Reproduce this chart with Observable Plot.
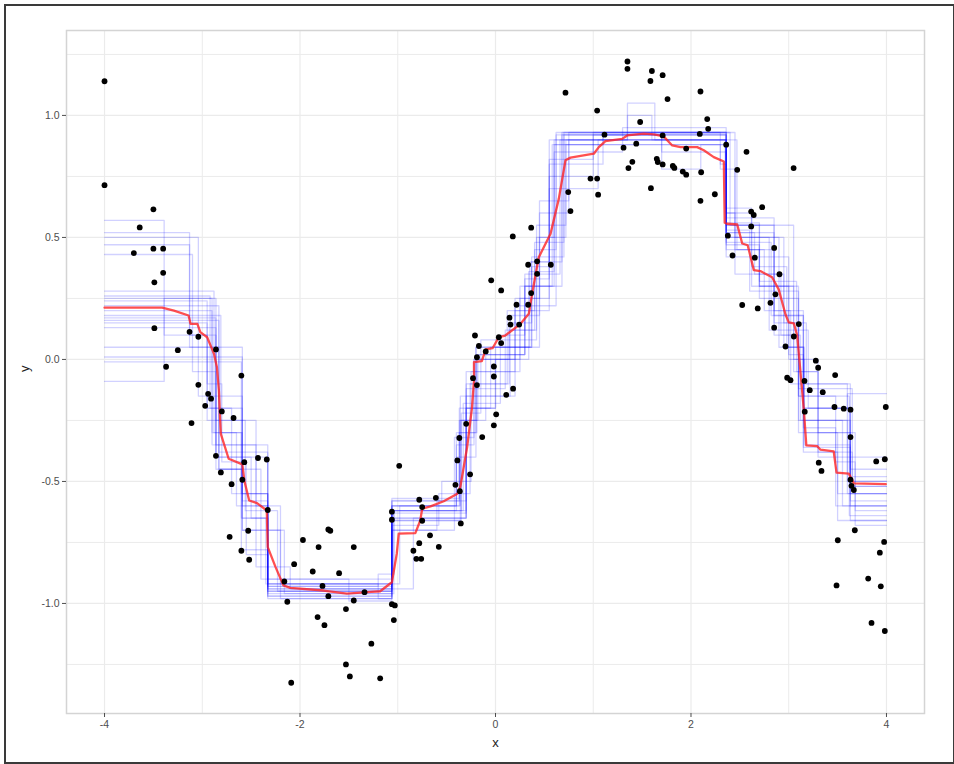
<!DOCTYPE html>
<html>
<head>
<meta charset="utf-8">
<script src="https://cdn.jsdelivr.net/npm/d3@7"></script>
<script src="https://cdn.jsdelivr.net/npm/@observablehq/plot@0.6"></script>
<style>
  html, body { margin: 0; padding: 0; background: #fff; }
  #wrap { position: relative; width: 954px; height: 764px; overflow: hidden; }
  #outer { position: absolute; left: 4px; top: 4px; width: 947px; height: 756px; border: 2px solid #3a3a3a; pointer-events: none; box-sizing: content-box; }
  svg { display: block; }
</style>
</head>
<body>
<div id="wrap"><div id="outer"></div></div>
<script>
// ---- tick values / labels ----
const xMajor = [-4, -2, 0, 2, 4];
const xMinor = [-3, -1, 1, 3];
const yMajor = [-1, -0.5, 0, 0.5, 1];
const yMinor = [-1.25, -0.75, -0.25, 0.25, 0.75, 1.25];
const xTitle = "x";
const yTitle = "y";

// ---- observed points [x, y] ----
const points = [
  [-4.00,1.14],[-4.00,0.714],[-3.50,0.615],[-3.64,0.541],[-3.70,0.436],[-3.50,0.454],[-3.40,0.454],
  [-3.40,0.355],[-3.49,0.316],[-3.49,0.128],[-3.13,0.113],[-3.04,0.093],[-3.25,0.038],[-2.86,0.041],
  [-3.37,-0.030],[-2.60,-0.066],[-3.04,-0.104],[-2.94,-0.141],[-2.91,-0.161],[-2.97,-0.190],[-2.80,-0.213],
  [-2.68,-0.240],[-3.11,-0.261],[-2.86,-0.395],[-2.57,-0.421],[-2.43,-0.404],[-2.34,-0.410],[-2.81,-0.463],
  [-2.70,-0.511],[-2.59,-0.493],[-2.33,-0.617],[-2.72,-0.727],[-2.53,-0.702],[-2.60,-0.784],[-2.52,-0.821],
  [-2.16,-0.910],[-2.13,-0.993],[-2.06,-0.839],[-1.97,-0.740],[-1.87,-0.869],[-1.81,-0.769],[-1.71,-0.697],
  [-1.69,-0.702],[-1.77,-0.928],[-1.71,-0.970],[-1.82,-1.056],[-1.75,-1.089],[-1.60,-0.876],[-1.45,-0.769],
  [-1.53,-1.023],[-1.45,-0.988],[-1.34,-0.954],[-1.27,-1.165],[-1.53,-1.25],[-1.49,-1.299],[-1.18,-1.307],
  [-2.09,-1.325],[-1.06,-0.624],[-1.06,-0.657],[-0.985,-0.436],[-1.06,-1.003],[-1.03,-1.008],[-1.04,-1.068],
  [-0.78,-0.575],[-0.75,-0.605],[-0.61,-0.567],[-0.75,-0.661],[-0.67,-0.721],[-0.78,-0.753],[-0.58,-0.768],
  [-0.84,-0.784],[-0.81,-0.817],[-0.76,-0.817],[-0.41,-0.514],[-0.365,-0.540],[-0.39,-0.414],[-0.37,-0.322],
  [-0.30,-0.264],[-0.26,-0.471],[-0.355,-0.672],[-0.19,-0.105],[-0.136,-0.318],[-0.017,-0.270],[0.007,-0.225],
  [0.11,-0.145],[0.18,-0.120],[-0.017,-0.070],[-0.017,-0.029],[-0.23,-0.077],[-0.19,0.009],[-0.17,0.055],
  [-0.21,0.098],[-0.10,0.033],[0.034,0.091],[0.058,0.067],[-0.044,0.324],[0.058,0.283],[0.143,0.171],
  [0.153,0.143],[0.242,0.143],[0.215,0.224],[0.177,0.504],[0.334,0.224],[0.365,0.272],[0.334,0.388],
  [0.426,0.351],[0.426,0.402],[0.365,0.540],[0.566,0.388],[0.716,1.093],[0.744,0.686],[0.767,0.608],
  [0.972,0.741],[1.04,0.741],[1.05,0.675],[1.04,1.020],[1.115,0.921],[1.35,1.221],[1.35,1.191],
  [1.60,1.182],[1.71,1.165],[1.585,1.141],[1.76,1.067],[1.48,0.973],[1.31,0.868],[1.44,0.884],
  [1.40,0.810],[1.36,0.784],[1.65,0.822],[1.66,0.809],[1.71,0.799],[1.59,0.702],[1.71,0.918],
  [2.097,1.098],[2.166,0.985],[2.176,0.945],[2.09,0.924],[2.568,0.851],[3.05,0.784],[1.951,0.864],
  [1.814,0.793],[1.83,0.785],[1.916,0.770],[1.951,0.757],[2.104,0.767],[2.097,0.650],[2.36,0.880],
  [2.473,0.777],[2.244,0.677],[2.728,0.624],[2.616,0.606],[2.642,0.592],[2.616,0.545],[2.377,0.507],
  [2.425,0.426],[2.851,0.457],[2.653,0.417],[2.905,0.349],[2.864,0.267],[2.813,0.232],[2.524,0.223],
  [2.683,0.209],[2.851,0.130],[3.103,0.145],[3.052,0.094],[2.967,0.053],[2.984,-0.075],[3.018,-0.085],
  [3.161,-0.088],[3.277,-0.005],[3.301,-0.034],[3.215,-0.126],[3.348,-0.134],[3.475,-0.064],[3.164,-0.214],
  [3.468,-0.195],[3.563,-0.202],[3.632,-0.206],[3.993,-0.195],[3.632,-0.318],[3.307,-0.423],[3.335,-0.457],
  [3.895,-0.418],[3.983,-0.409],[3.632,-0.493],[3.642,-0.518],[3.666,-0.535],[3.676,-0.700],[3.502,-0.741],
  [3.976,-0.748],[3.932,-0.792],[3.489,-0.926],[3.813,-0.898],[3.942,-0.930],[3.847,-1.080],[3.983,-1.113]
];

// ---- bagged tree fits: each [xStart, level] ----
const bagTrees = [
  [[-4,0.57],[-3.39,0.10],[-2.86,-0.40],[-2.33,-0.95],[-1.06,-0.62],[-0.30,-0.10],[0.12,0.20],[0.40,0.45],[0.62,0.92],[2.36,0.55],[2.85,0.20],[3.15,-0.20],[3.63,-0.52]],
  [[-4,0.52],[-3.13,0.05],[-2.83,-0.45],[-2.59,-0.70],[-2.16,-0.96],[-1.06,-0.58],[-0.37,-0.30],[-0.19,0.02],[0.30,0.33],[0.55,0.90],[1.35,1.05],[1.63,0.90],[2.36,0.45],[2.70,0.25],[3.10,-0.15],[3.48,-0.60]],
  [[-4,0.50],[-3.04,-0.15],[-2.59,-0.55],[-2.33,-0.93],[-1.20,-0.88],[-1.04,-0.62],[-0.40,-0.35],[-0.22,0.00],[0.14,0.15],[0.37,0.42],[0.70,0.93],[2.45,0.50],[2.95,0.15],[3.18,-0.10],[3.63,-0.45]],
  [[-4,0.47],[-3.13,0.10],[-2.95,-0.25],[-2.45,-0.60],[-2.20,-0.98],[-1.06,-0.70],[-0.60,-0.58],[-0.30,-0.20],[-0.05,0.05],[0.45,0.50],[0.72,0.90],[2.36,0.60],[2.62,0.30],[3.05,-0.05],[3.30,-0.30],[3.68,-0.62]],
  [[-4,0.43],[-3.10,-0.05],[-2.86,-0.45],[-2.60,-0.78],[-2.33,-0.92],[-0.98,-0.60],[-0.36,-0.15],[0.20,0.20],[0.55,0.75],[1.00,0.92],[2.36,0.50],[2.90,0.05],[3.16,-0.35],[3.63,-0.66]],
  [[-4,0.28],[-2.88,-0.30],[-2.59,-0.60],[-2.33,-0.97],[-1.06,-0.65],[-0.30,-0.05],[0.25,0.30],[0.58,0.88],[2.30,0.78],[2.45,0.45],[2.85,0.10],[3.10,-0.25],[3.60,-0.55]],
  [[-4,0.26],[-2.92,-0.20],[-2.70,-0.55],[-2.33,-0.90],[-1.50,-0.99],[-1.06,-0.60],[-0.37,-0.25],[-0.20,0.05],[0.35,0.40],[0.68,0.93],[2.36,0.42],[3.00,0.00],[3.16,-0.30],[3.50,-0.55]],
  [[-4,0.25],[-2.86,-0.35],[-2.45,-0.85],[-2.10,-0.94],[-1.06,-0.68],[-0.58,-0.55],[-0.26,-0.10],[0.14,0.12],[0.42,0.55],[0.72,0.88],[1.10,0.93],[2.40,0.55],[2.70,0.30],[3.10,-0.12],[3.65,-0.48]],
  [[-4,0.24],[-2.95,-0.10],[-2.80,-0.42],[-2.55,-0.80],[-2.33,-0.96],[-1.04,-0.62],[-0.33,-0.18],[0.05,0.10],[0.30,0.30],[0.60,0.90],[2.35,0.62],[2.62,0.38],[2.98,0.05],[3.15,-0.36],[3.63,-0.58]],
  [[-4,0.22],[-2.83,-0.38],[-2.33,-0.94],[-0.84,-0.65],[-0.30,-0.20],[0.00,0.05],[0.37,0.38],[0.55,0.80],[1.10,0.92],[1.70,0.85],[2.36,0.48],[2.82,0.18],[3.15,-0.28],[3.48,-0.42],[3.68,-0.68]],
  [[-4,0.18],[-2.81,-0.30],[-2.60,-0.65],[-2.35,-0.92],[-1.06,-0.60],[-0.40,-0.40],[-0.20,0.00],[0.25,0.25],[0.45,0.60],[0.75,0.93],[2.36,0.55],[3.05,0.00],[3.30,-0.40]],
  [[-4,0.17],[-2.86,-0.25],[-2.56,-0.62],[-2.23,-0.95],[-1.06,-0.66],[-0.35,-0.25],[-0.10,0.02],[0.30,0.35],[0.66,0.90],[1.35,1.00],[1.60,0.90],[2.47,0.45],[2.75,0.20],[3.02,-0.10],[3.60,-0.50]],
  [[-4,0.16],[-2.83,-0.45],[-2.40,-0.90],[-1.06,-0.58],[-0.55,-0.50],[-0.25,-0.05],[0.20,0.22],[0.62,0.93],[2.30,0.80],[2.36,0.52],[2.65,0.35],[2.92,0.10],[3.12,-0.25],[3.55,-0.60]],
  [[-4,0.13],[-2.86,-0.40],[-2.50,-0.65],[-2.33,-0.97],[-1.06,-0.70],[-0.42,-0.32],[-0.22,0.00],[0.20,0.25],[0.55,0.70],[1.05,0.90],[2.36,0.58],[2.85,0.15],[3.10,-0.30],[3.63,-0.55]],
  [[-4,0.05],[-2.59,-0.65],[-2.33,-0.93],[-1.06,-0.63],[-0.30,-0.12],[0.10,0.12],[0.40,0.48],[0.70,0.92],[2.36,0.50],[2.80,0.12],[3.20,-0.20],[3.60,-0.14]],
  [[-4,0.01],[-2.59,-0.70],[-2.20,-0.92],[-1.20,-0.98],[-1.06,-0.57],[-0.37,-0.20],[0.00,0.00],[0.34,0.36],[0.60,0.85],[1.30,0.95],[2.36,0.53],[2.60,0.28],[3.10,-0.15],[3.62,-0.64]],
  [[-4,-0.01],[-2.60,-0.55],[-2.33,-0.98],[-1.06,-0.65],[-0.30,-0.15],[0.15,0.18],[0.45,0.65],[0.75,0.90],[2.36,0.56],[2.70,0.30],[3.00,0.02],[3.15,-0.38],[3.50,-0.66]],
  [[-4,-0.09],[-3.39,0.25],[-2.90,-0.35],[-2.33,-0.94],[-1.06,-0.62],[-0.35,-0.22],[-0.15,0.08],[0.42,0.50],[0.60,0.88],[2.36,0.60],[2.45,0.35],[2.95,0.05],[3.15,-0.20],[3.63,-0.60]],
  [[-4,0.20],[-2.90,-0.30],[-2.65,-0.60],[-2.33,-0.95],[-1.06,-0.66],[-0.36,-0.25],[-0.18,0.02],[0.30,0.30],[0.68,0.92],[1.70,0.78],[2.10,0.88],[2.36,0.52],[2.85,0.18],[3.15,-0.25],[3.63,-0.52]],
  [[-4,0.15],[-2.95,-0.20],[-2.59,-0.58],[-2.33,-0.92],[-1.06,-0.60],[-0.40,-0.30],[-0.20,0.05],[0.37,0.40],[0.55,0.82],[1.00,0.93],[2.36,0.47],[2.70,0.32],[3.08,-0.05],[3.30,-0.38],[3.65,-0.50]]
];
const xEnd = 4;

// ---- averaged fit (red) ----
const meanFit = [
  [-4,0.212],[-3.41,0.212],[-3.29,0.20],[-3.14,0.18],[-3.12,0.146],[-3.05,0.146],[-3.02,0.112],[-2.95,0.091],
  [-2.88,0.023],[-2.85,-0.032],[-2.83,-0.127],[-2.82,-0.223],[-2.81,-0.305],[-2.73,-0.407],[-2.59,-0.430],
  [-2.57,-0.496],[-2.52,-0.578],[-2.44,-0.589],[-2.34,-0.619],[-2.33,-0.769],[-2.25,-0.851],[-2.17,-0.926],
  [-2.10,-0.936],[-1.76,-0.947],[-1.52,-0.960],[-1.31,-0.954],[-1.18,-0.950],[-1.06,-0.913],[-1.01,-0.796],
  [-0.99,-0.714],[-0.82,-0.712],[-0.77,-0.660],[-0.75,-0.612],[-0.665,-0.602],[-0.53,-0.581],[-0.39,-0.550],
  [-0.36,-0.523],[-0.29,-0.359],[-0.24,-0.195],[-0.22,-0.086],[-0.22,-0.011],[-0.14,-0.007],[-0.10,0.041],
  [-0.03,0.046],[0.034,0.091],[0.10,0.098],[0.256,0.146],[0.341,0.187],[0.375,0.269],[0.427,0.385],
  [0.443,0.419],[0.563,0.515],[0.648,0.659],[0.716,0.816],[0.767,0.827],[1.006,0.843],[1.057,0.870],
  [1.125,0.895],[1.296,0.904],[1.347,0.918],[1.517,0.925],[1.62,0.922],[1.72,0.914],[1.808,0.877],
  [1.893,0.870],[2.063,0.870],[2.131,0.857],[2.233,0.829],[2.336,0.811],[2.345,0.56],[2.37,0.556],
  [2.473,0.553],[2.524,0.475],[2.58,0.468],[2.643,0.366],[2.71,0.362],[2.83,0.337],[2.898,0.286],
  [2.967,0.184],[3.00,0.152],[3.052,0.148],[3.087,0.097],[3.155,-0.209],[3.18,-0.352],[3.29,-0.355],
  [3.325,-0.370],[3.46,-0.377],[3.489,-0.464],[3.615,-0.468],[3.666,-0.508],[3.993,-0.511]
];

// build a long table for the step lines
const treeRows = [];
bagTrees.forEach((t, i) => {
  t.forEach(([x, y]) => treeRows.push({tree: i, x, y}));
  treeRows.push({tree: i, x: xEnd, y: t[t.length - 1][1]});
});

const gridColor = "#ebebeb";
const textColor = "#4d4d4d";

const chart = Plot.plot({
  width: 954,
  height: 764,
  marginLeft: 66,
  marginRight: 30,
  marginTop: 30,
  marginBottom: 51,
  style: {fontFamily: "'Liberation Sans', Arial, sans-serif", background: "transparent"},
  x: {domain: [-4.389, 4.389]},
  y: {domain: [-1.451, 1.348]},
  marks: [
    Plot.ruleX(xMinor, {stroke: gridColor, strokeWidth: 1}),
    Plot.ruleY(yMinor, {stroke: gridColor, strokeWidth: 1}),
    Plot.ruleX(xMajor, {stroke: gridColor, strokeWidth: 1.2}),
    Plot.ruleY(yMajor, {stroke: gridColor, strokeWidth: 1.2}),
    Plot.frame({stroke: "#d4d4d4", strokeWidth: 1.5}),
    Plot.axisX({ticks: xMajor, tickFormat: d => String(d), tickSize: 4, tickPadding: 3,
      fontSize: 10.5, color: textColor, label: null}),
    Plot.axisY({ticks: yMajor, tickFormat: d => d.toFixed(1), tickSize: 4, tickPadding: 3,
      fontSize: 10.5, color: textColor, label: null}),
    Plot.text([xTitle], {frameAnchor: "bottom", dy: 33, fontSize: 13, fill: "#222"}),
    Plot.text([yTitle], {frameAnchor: "left", dx: -42, rotate: -90, fontSize: 13, fill: "#222"}),
    Plot.line(treeRows, {x: "x", y: "y", z: "tree", curve: "step-after",
      stroke: "#0000ff", strokeOpacity: 0.18, strokeWidth: 1.3}),
    Plot.line(meanFit, {x: d => d[0], y: d => d[1], stroke: "#ff1f1f", strokeOpacity: 0.78, strokeWidth: 2.3}),
    Plot.dot(points, {x: d => d[0], y: d => d[1], r: 2.9, fill: "black", stroke: "none"})
  ]
});
document.getElementById("wrap").prepend(chart);
</script>
</body>
</html>
